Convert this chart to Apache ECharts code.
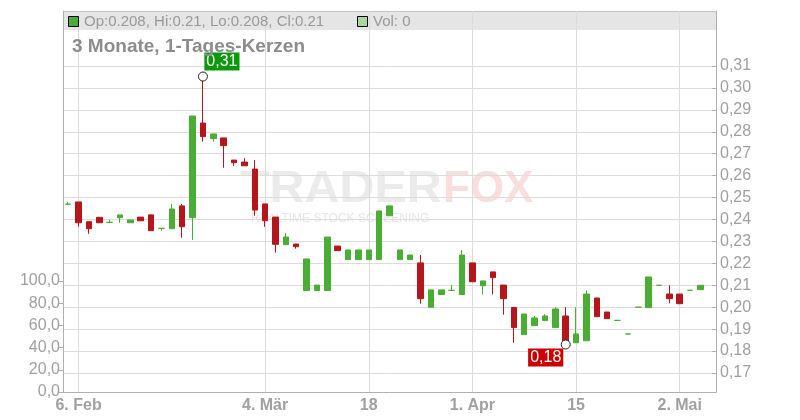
<!DOCTYPE html>
<html>
<head>
<meta charset="utf-8">
<title>3 Monate, 1-Tages-Kerzen</title>
<script src="https://cdn.jsdelivr.net/npm/echarts@6/dist/echarts.min.js"></script>
<style>
    html, body { margin: 0; padding: 0; background: #fff; }
    #chart { width: 800px; height: 420px; }
</style>
</head>
<body>
<div id="chart"></div>
<script>
const dates = [
    '2024-02-05', '2024-02-06', '2024-02-07', '2024-02-08', '2024-02-09',
    '2024-02-12', '2024-02-13', '2024-02-14', '2024-02-15', '2024-02-16',
    '2024-02-20', '2024-02-21', '2024-02-22', '2024-02-23', '2024-02-26',
    '2024-02-27', '2024-02-28', '2024-02-29', '2024-03-01', '2024-03-04',
    '2024-03-05', '2024-03-06', '2024-03-07', '2024-03-08', '2024-03-11',
    '2024-03-12', '2024-03-13', '2024-03-14', '2024-03-15', '2024-03-18',
    '2024-03-19', '2024-03-20', '2024-03-21', '2024-03-22', '2024-03-25',
    '2024-03-26', '2024-03-27', '2024-03-28', '2024-03-29', '2024-04-01',
    '2024-04-02', '2024-04-03', '2024-04-04', '2024-04-05', '2024-04-08',
    '2024-04-09', '2024-04-10', '2024-04-11', '2024-04-12', '2024-04-15',
    '2024-04-16', '2024-04-17', '2024-04-18', '2024-04-22', '2024-04-23',
    '2024-04-24', '2024-04-25', '2024-04-26', '2024-04-29', '2024-05-02',
    '2024-05-03', '2024-05-06', '2024-05-07'
];
const openValues = [
    0.247, 0.248, 0.239, 0.241, 0.2387, 0.2408, 0.2385, 0.2411, 0.2421, 0.236,
    0.2358, 0.2462, 0.2408, 0.284, 0.2769, 0.2772, 0.2671, 0.2662, 0.263, 0.2471,
    0.2411, 0.2285, 0.2288, 0.2076, 0.2076, 0.2076, 0.2279, 0.2217, 0.2217, 0.2217,
    0.2217, 0.2417, 0.2217, 0.2217, 0.2202, 0.2, 0.2058, 0.2077, 0.2058, 0.2202,
    0.2098, 0.2161, 0.2101, 0.1999, 0.1875, 0.1916, 0.1939, 0.1907, 0.196, 0.1838,
    0.1847, 0.2042, 0.1978, 0.194, 0.1878, 0.2, 0.1998, 0.21, 0.206, 0.206,
    0.2077, 0.208
];
const highValues = [
    0.248, 0.248, 0.239, 0.241, 0.2398, 0.2421, 0.2398, 0.2411, 0.2421, 0.236,
    0.2471, 0.2471, 0.2872, 0.3052, 0.279, 0.2772, 0.2671, 0.268, 0.2671, 0.2471,
    0.2411, 0.2338, 0.2288, 0.222, 0.2101, 0.232, 0.2279, 0.2261, 0.2261, 0.2261,
    0.2439, 0.2462, 0.2261, 0.2238, 0.2238, 0.2079, 0.2079, 0.21, 0.2261, 0.2202,
    0.212, 0.2161, 0.2101, 0.1999, 0.1969, 0.196, 0.1969, 0.2, 0.2, 0.2,
    0.2077, 0.2042, 0.1978, 0.194, 0.1878, 0.2, 0.2138, 0.21, 0.21, 0.206,
    0.2077, 0.21
];
const lowValues = [
    0.247, 0.2367, 0.2335, 0.2385, 0.2387, 0.2385, 0.2385, 0.2394, 0.2349, 0.2349,
    0.2358, 0.2317, 0.2307, 0.2755, 0.2755, 0.2636, 0.2644, 0.2645, 0.2417, 0.2367,
    0.2249, 0.2285, 0.2267, 0.2076, 0.2076, 0.2076, 0.2258, 0.2217, 0.2217, 0.2217,
    0.2217, 0.2417, 0.2217, 0.2217, 0.2016, 0.2, 0.2058, 0.2077, 0.2058, 0.2116,
    0.2058, 0.2058, 0.1966, 0.1838, 0.1875, 0.1916, 0.1939, 0.1907, 0.183, 0.1838,
    0.1847, 0.1957, 0.1948, 0.194, 0.1878, 0.2, 0.1998, 0.21, 0.2018, 0.2016,
    0.2077, 0.208
];
const closeValues = [
    0.247, 0.2385, 0.2358, 0.2385, 0.2387, 0.2421, 0.2398, 0.2394, 0.2349, 0.236,
    0.2448, 0.2367, 0.2872, 0.2778, 0.279, 0.2737, 0.2659, 0.2645, 0.2443, 0.2395,
    0.2287, 0.232, 0.2276, 0.222, 0.2101, 0.232, 0.2258, 0.2261, 0.2261, 0.2261,
    0.2439, 0.2462, 0.2261, 0.2238, 0.2039, 0.2079, 0.2079, 0.2077, 0.2238, 0.2116,
    0.212, 0.2135, 0.2039, 0.1907, 0.1969, 0.1951, 0.196, 0.1992, 0.1835, 0.1878,
    0.206, 0.1957, 0.1948, 0.194, 0.1878, 0.2, 0.2138, 0.21, 0.2039, 0.2016,
    0.2077, 0.21
];
const volumes = [
    0, 0, 0, 0, 0, 0, 0, 0, 0, 0,
    0, 0, 0, 0, 0, 0, 0, 0, 0, 0,
    0, 0, 0, 0, 0, 0, 0, 0, 0, 0,
    0, 0, 0, 0, 0, 0, 0, 0, 0, 0,
    0, 0, 0, 0, 0, 0, 0, 0, 0, 0,
    0, 0, 0, 0, 0, 0, 0, 0, 0, 0,
    0, 0
];
const tickDates = ['2024-02-06', '2024-03-04', '2024-03-18', '2024-04-01', '2024-04-15', '2024-05-02'];
const tickLabels = ['6. Feb', '4. Mär', '18', '1. Apr', '15', '2. Mai'];

const FONT = 'Liberation Sans, Arial, sans-serif';
const UP = '#4aad34';
const DOWN = '#b5161b';
const AXIS = '#b0b0b0';
const SPLIT = '#dcdcdc';
const LABEL = '#a0a0a0';

function comma(v, d) {
    return Number(v).toFixed(d).replace('.', ',');
}

class KerzenChart {
    chart_title_txt = '3 Monate, 1-Tages-Kerzen';
    constructor(domId) {
        this.domId = domId;
    }
    build() {
        let chart = echarts.init(document.getElementById(this.domId));
        chart.setOption(this.setOption(), true);
        window.addEventListener('resize', function () {
            chart.resize();
        });
    }
    setOption() {
        let option = {
            animation: false,
            textStyle: { fontFamily: FONT }
        };
        this.setGrid(option);
        this.setXAxis(option);
        this.setYAxis(option);
        this.setSeries(option);
        this.setGraphic(option);
        return option;
    }
    setGrid(option) {
        option.grid = [
            // frame: vertical lines, date labels, outer lines
            { left: 63, right: 84, top: 11, bottom: 28 },
            // price pane 0,17 .. 0,31
            { left: 63, right: 84, top: 66, height: 307 },
            // volume pane 0 .. 100
            { left: 63, right: 84, bottom: 28, height: 111 }
        ];
    }
    setXAxis(option) {
        let isTick = (index, value) => tickDates.indexOf(value) >= 0;
        option.xAxis = [
            {
                type: 'category',
                gridIndex: 0,
                data: dates,
                boundaryGap: true,
                axisLine: { lineStyle: { color: AXIS } },
                axisTick: { alignWithLabel: true, interval: isTick, length: 4, lineStyle: { color: AXIS } },
                axisLabel: {
                    interval: isTick,
                    color: LABEL,
                    fontSize: 16,
                    fontWeight: 'bold',
                    margin: 6,
                    formatter: (value) => tickLabels[tickDates.indexOf(value)] || ''
                },
                splitLine: { show: true, alignWithLabel: true, interval: isTick, lineStyle: { color: SPLIT } }
            },
            { type: 'category', gridIndex: 1, data: dates, boundaryGap: true, show: false },
            { type: 'category', gridIndex: 2, data: dates, boundaryGap: true, show: false }
        ];
    }
    setYAxis(option) {
        option.yAxis = [
            {
                type: 'value', gridIndex: 0, position: 'left', min: 0, max: 1,
                axisLine: { show: true, lineStyle: { color: AXIS } },
                axisTick: { show: false }, axisLabel: { show: false }, splitLine: { show: false }
            },
            {
                type: 'value', gridIndex: 0, position: 'right', min: 0, max: 1,
                axisLine: { show: true, lineStyle: { color: AXIS } },
                axisTick: { show: false }, axisLabel: { show: false }, splitLine: { show: false }
            },
            {
                type: 'value',
                gridIndex: 1,
                position: 'right',
                min: 0.17,
                max: 0.31,
                interval: 0.01,
                axisLine: { show: true, lineStyle: { color: AXIS } },
                axisTick: { show: true, inside: true, length: 4, lineStyle: { color: AXIS } },
                axisLabel: { color: LABEL, fontSize: 16, margin: 4, formatter: (v) => comma(v, 2) },
                splitLine: { lineStyle: { color: SPLIT } }
            },
            {
                type: 'value',
                gridIndex: 2,
                position: 'left',
                min: 0,
                max: 100,
                interval: 20,
                axisLine: { show: true, lineStyle: { color: AXIS } },
                axisTick: { show: true, length: 4, lineStyle: { color: AXIS } },
                axisLabel: { color: LABEL, fontSize: 16, margin: 3, formatter: (v) => comma(v, 1) },
                splitLine: { show: false }
            }
        ];
    }
    setSeries(option) {
        let candles = dates.map((d, i) => {
            if (i >= openValues.length) return '-';
            let item = { value: [openValues[i], closeValues[i], lowValues[i], highValues[i]] };
            // unchanged days are drawn as rising
            if (openValues[i] === closeValues[i]) {
                item.itemStyle = { color: UP, color0: UP, borderColor: UP, borderColor0: UP };
            }
            return item;
        });
        let iMax = highValues.indexOf(Math.max(...highValues));
        let iMin = lowValues.indexOf(Math.min(...lowValues));
        option.series = [
            {
                name: 'Kurs',
                type: 'candlestick',
                xAxisIndex: 1,
                yAxisIndex: 2,
                data: candles,
                barWidth: 6,
                itemStyle: {
                    color: UP, color0: DOWN,
                    borderColor: UP, borderColor0: DOWN,
                    borderWidth: 1
                },
                markPoint: {
                    symbol: 'circle',
                    symbolSize: 9,
                    itemStyle: { color: '#fff', borderColor: '#222', borderWidth: 1 },
                    label: {
                        show: true,
                        position: 'inside',
                        color: '#fff',
                        fontSize: 16,
                        padding: [1, 2],
                        formatter: (p) => comma(p.value, 2)
                    },
                    data: [
                        {
                            coord: [dates[iMax], highValues[iMax]], value: highValues[iMax],
                            label: { offset: [19, -15], backgroundColor: '#0a990a' }
                        },
                        {
                            coord: [dates[iMin], lowValues[iMin]], value: lowValues[iMin],
                            label: { offset: [-20, 13], backgroundColor: '#cc0000' }
                        }
                    ]
                }
            },
            {
                name: 'Vol',
                type: 'bar',
                xAxisIndex: 2,
                yAxisIndex: 3,
                data: volumes,
                barWidth: 6,
                itemStyle: { color: '#a8d8a0' }
            }
        ];
    }
    setGraphic(option) {
        let n = openValues.length - 1;
        let legendTxt = 'Op:' + openValues[n] + ', Hi:' + highValues[n] + ', Lo:' + lowValues[n] + ', Cl:' + closeValues[n];
        option.graphic = [
            // watermark
            {
                type: 'text', x: 240, y: 190, scaleX: 1.1, z: -20, silent: true,
                style: { text: 'TRADER', font: 'bold 44px ' + FONT, fill: '#ebebeb', verticalAlign: 'middle' }
            },
            {
                type: 'text', x: 443, y: 190, z: -20, silent: true,
                style: { text: 'FOX', font: 'bold 44px ' + FONT, fill: '#f9dede', verticalAlign: 'middle' }
            },
            {
                type: 'text', x: 251, y: 219, z: -20, silent: true,
                style: { text: 'REALTIME STOCK SCREENING', font: '12px ' + FONT, fill: '#e6e6e6', verticalAlign: 'middle' }
            },
            // legend bar
            {
                type: 'rect', z: -10, silent: true,
                shape: { x: 63, y: 11, width: 653, height: 19 },
                style: { fill: '#e5e5e5' }
            },
            {
                type: 'line', z: -5, silent: true,
                shape: { x1: 63, y1: 11.5, x2: 716, y2: 11.5 },
                style: { stroke: '#c4c4c4', lineWidth: 1 }
            },
            {
                type: 'rect', z: 10, silent: true,
                shape: { x: 68.5, y: 16.5, width: 10, height: 10 },
                style: { fill: UP, stroke: '#000', lineWidth: 1 }
            },
            {
                type: 'text', x: 84, y: 21.5, z: 10, silent: true,
                style: { text: legendTxt, font: '15px ' + FONT, fill: '#999', verticalAlign: 'middle' }
            },
            {
                type: 'rect', z: 10, silent: true,
                shape: { x: 357.5, y: 16.5, width: 10, height: 10 },
                style: { fill: '#a8d8a0', stroke: '#000', lineWidth: 1 }
            },
            {
                type: 'text', x: 373, y: 21.5, z: 10, silent: true,
                style: { text: 'Vol: ' + volumes[n], font: '15px ' + FONT, fill: '#999', verticalAlign: 'middle' }
            },
            // title
            {
                type: 'text', x: 72, y: 47, z: 10, silent: true,
                style: { text: this.chart_title_txt, font: 'bold 19px ' + FONT, fill: '#8c8c8c', verticalAlign: 'middle' }
            }
        ];
    }
}

new KerzenChart('chart').build();
</script>
</body>
</html>
